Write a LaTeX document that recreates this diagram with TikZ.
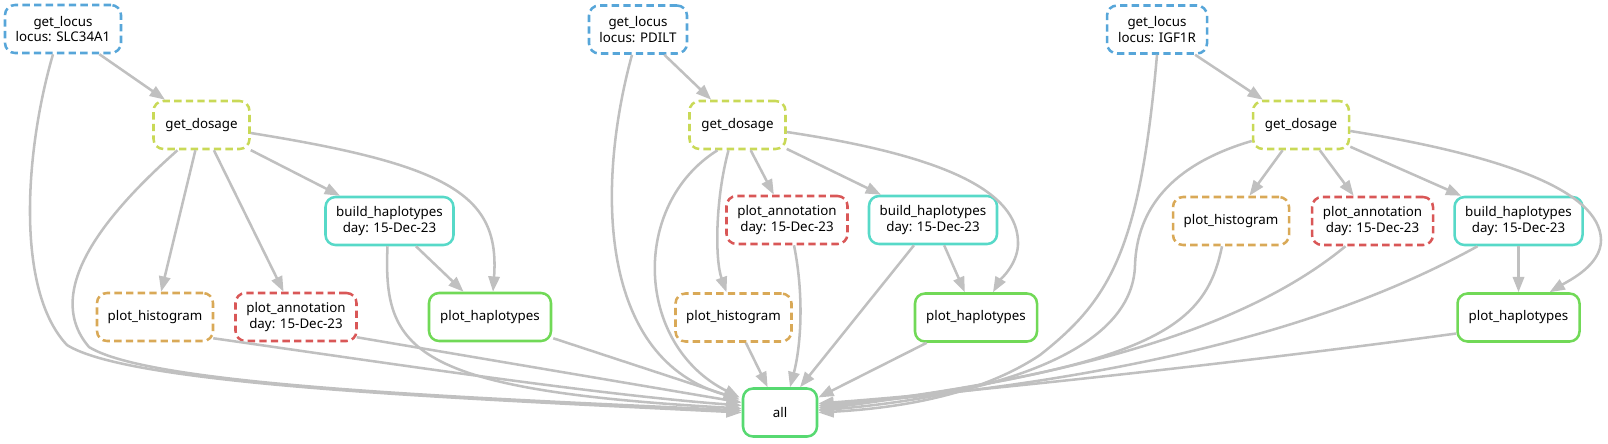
\documentclass[tikz,border=0pt]{standalone}
\usepackage{fontspec}
\setmainfont{Noto Sans}
\usetikzlibrary{arrows.meta,calc}
\definecolor{cblue}{RGB}{87,166,217}
\definecolor{cyel}{RGB}{201,217,87}
\definecolor{ccyan}{RGB}{87,217,200}
\definecolor{corange}{RGB}{217,169,87}
\definecolor{cred}{RGB}{217,87,87}
\definecolor{cgreen}{RGB}{113,217,87}
\definecolor{call}{RGB}{87,217,113}
\definecolor{cedge}{RGB}{192,192,192}
\begin{document}
\begin{tikzpicture}[x=0.75pt,y=-0.75pt,
 nd/.style={draw, line width=1.9pt, rounded corners=7.5pt, align=center, inner sep=0pt, minimum height=36pt, font=\fontsize{10}{11.5}\selectfont, text=black},
 dsh/.style={nd, dash pattern=on 5.5pt off 3.2pt},
 locusbox/.style={dsh, draw=cblue},
 dosagebox/.style={dsh, draw=cyel, minimum width=72pt},
 histbox/.style={dsh, draw=corange, minimum width=87pt},
 annotbox/.style={dsh, draw=cred, minimum width=90.75pt},
 buildbox/.style={nd, draw=ccyan, minimum width=96pt},
 haplobox/.style={nd, draw=cgreen, minimum width=91.5pt},
 allbox/.style={nd, draw=call, minimum width=55.5pt},
 conn/.style={draw=cedge, line width=1.9pt, -{Triangle[length=11.5pt,width=8.5pt]}},
]
\useasboundingbox (0,0) rectangle (1608,443);
% nodes
\node[locusbox, minimum width=87pt] (locus1) at (63,29) {get\_locus\\locus: SLC34A1};
\node[locusbox, minimum width=73.5pt] (locus2) at (638,29.5) {get\_locus\\locus: PDILT};
\node[locusbox, minimum width=75pt] (locus3) at (1157,29.5) {get\_locus\\locus: IGF1R};
\node[dosagebox] (dosage1) at (201.5,125) {get\_dosage};
\node[dosagebox] (dosage2) at (737.5,125) {get\_dosage};
\node[dosagebox] (dosage3) at (1301,125) {get\_dosage};
\node[buildbox] (build1) at (389.5,221) {build\_haplotypes\\day: 15-Dec-23};
\node[annotbox] (annot2) at (787,220) {plot\_annotation\\day: 15-Dec-23};
\node[buildbox] (build2) at (933,220) {build\_haplotypes\\day: 15-Dec-23};
\node[histbox] (hist3) at (1231,221) {plot\_histogram};
\node[annotbox] (annot3) at (1372.5,221) {plot\_annotation\\day: 15-Dec-23};
\node[buildbox] (build3) at (1518.5,221) {build\_haplotypes\\day: 15-Dec-23};
\node[histbox] (hist1) at (155,317) {plot\_histogram};
\node[annotbox] (annot1) at (296,317) {plot\_annotation\\day: 15-Dec-23};
\node[haplobox] (haplo1) at (490,317) {plot\_haplotypes};
\node[histbox] (hist2) at (733.5,317.5) {plot\_histogram};
\node[haplobox] (haplo2) at (976,317.5) {plot\_haplotypes};
\node[haplobox] (haplo3) at (1518.5,317.5) {plot\_haplotypes};
\node[allbox] (all) at (780,412.5) {all};
% chain 1
\draw[conn] (locus1) -- (dosage1);
\draw[conn] ($(locus1.south)+(-10,0)$) .. controls (25,150) and (15,290) .. (67,345) .. controls (130,385) and (450,398) .. ($(all.west)+(0,0)$);
\draw[conn] ($(dosage1.south)+(-24,0)$) .. controls (110,210) and (40,290) .. (89,347) .. controls (150,385) and (450,397) .. ($(all.west)+(0,-2)$);
\draw[conn] (dosage1) -- (hist1);
\draw[conn] (dosage1) -- (annot1);
\draw[conn] (dosage1) -- (build1);
\draw[conn] ($(dosage1.east)+(0,8)$) .. controls (450,165) and (500,195) .. ($(haplo1.north)+(3,0)$);
\draw[conn] (build1) -- (haplo1);
\draw[conn] ($(build1.south)+(-2,0)$) .. controls (383,350) and (410,390) .. ($(all.west)+(0,-4)$);
\draw[conn] ($(hist1.south east)+(-1,-4)$) .. controls (400,365) and (600,395) .. ($(all.west)+(0,-7)$);
\draw[conn] ($(annot1.south east)+(-1,-5)$) -- ($(all.west)+(0,-10)$);
\draw[conn] ($(haplo1.south east)+(1,-4)$) -- ($(all.west)+(-2,-13)$);
% chain 2
\draw[conn] (locus2) -- (dosage2);
\draw[conn] ($(locus2.south)+(-6,0)$) .. controls (595,190) and (600,360) .. ($(all.west)+(-3,-14)$);
\draw[conn] ($(dosage2.south)+(-20,0)$) .. controls (630,205) and (635,345) .. ($(all.west)+(-2,-15)$);
\draw[conn] ($(dosage2.south)+(-9,0)$) .. controls (715,200) and (715,260) .. ($(hist2.north)+(-7,0)$);
\draw[conn] (dosage2) -- (annot2);
\draw[conn] (dosage2) -- (build2);
\draw[conn] ($(dosage2.east)+(0,7)$) .. controls (940,155) and (1020,190) .. (1018,245) .. controls (1017,265) and (1000,280) .. ($(haplo2.north)+(17,0)$);
\draw[conn] ($(annot2.south)+(7,0)$) .. controls (805,300) and (800,350) .. ($(all.north)+(10,0)$);
\draw[conn] (build2) -- (haplo2);
\draw[conn] ($(build2.south)+(-19,0)$) -- ($(all.north)+(20,0)$);
\draw[conn] (hist2) -- (all);
\draw[conn] ($(haplo2.south west)+(13,0)$) -- ($(all.east)+(0,-15)$);
% chain 3
\draw[conn] (locus3) -- (dosage3);
\draw[conn] (locus3.south) .. controls (1140,250) and (1110,300) .. (1040,355) .. controls (980,395) and (900,408) .. ($(all.east)+(0,0)$);
\draw[conn] ($(dosage3.west)+(0,16)$) .. controls (1170,165) and (1137,210) .. (1135,265) .. controls (1133,350) and (1000,395) .. ($(all.east)+(0,-2)$);
\draw[conn] (dosage3) -- (hist3);
\draw[conn] (dosage3) -- (annot3);
\draw[conn] (dosage3) -- (build3);
\draw[conn] ($(dosage3.east)+(0,6)$) .. controls (1500,155) and (1600,190) .. (1601,240) .. controls (1601,265) and (1570,280) .. ($(haplo3.north)+(31,0)$);
\draw[conn] ($(hist3.south)+(-9,0)$) .. controls (1205,330) and (1150,365) .. ($(all.east)+(0,-3)$);
\draw[conn] ($(annot3.south)+(-27,0)$) .. controls (1280,300) and (1150,370) .. ($(all.east)+(0,-5)$);
\draw[conn] ($(build3.south)+(-41,0)$) .. controls (1380,300) and (1200,375) .. ($(all.east)+(0,-7)$);
\draw[conn] (build3) -- (haplo3);
\draw[conn] ($(haplo3.west)+(0,16)$) .. controls (1300,355) and (1000,390) .. ($(all.east)+(0,-9)$);
\end{tikzpicture}
\end{document}
